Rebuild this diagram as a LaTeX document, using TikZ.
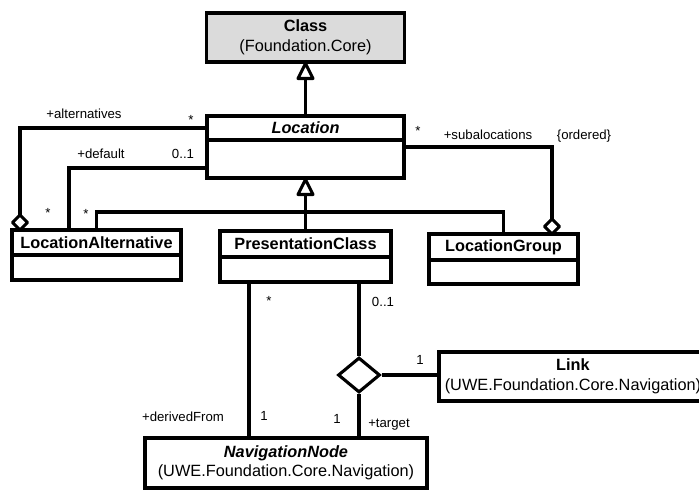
\documentclass[tikz,border=0pt]{standalone}
\usepackage{fontspec}
\setmainfont{Liberation Sans}
\usetikzlibrary{shapes.geometric,positioning,calc}
\newcommand{\clsfont}{\fontsize{16.3pt}{19.5pt}\selectfont}
\newcommand{\lblfont}{\fontsize{13.2pt}{15pt}\selectfont}
\definecolor{classgray}{gray}{0.86}

\begin{document}
\begin{tikzpicture}[x=1pt, y=-1pt,
    cls/.style={draw, line width=3.1pt, inner sep=0pt, outer sep=0pt, font=\clsfont, align=center},
    lbl/.style={font=\lblfont, anchor=base, inner sep=0pt},
    assoc/.style={line width=3.1pt},
    hollow/.style={draw, fill=white, line width=3.1pt, line join=round}]
    \useasboundingbox (0,0) rectangle (699,492);

    % Class
    \node[cls, fill=classgray, minimum width=198pt, minimum height=49pt] (class) at (305.5,37.5)
        {\textbf{Class}\\(Foundation.Core)};

    % Location
    \node[cls, minimum width=197pt, minimum height=24pt] (loc) at (305.5,128) {\textbf{\textit{Location}}};
    \node[cls, minimum width=197pt, minimum height=38pt, below=0pt of loc] (locb) {};

    % LocationAlternative
    \node[cls, minimum width=169pt, minimum height=25pt] (alt) at (96.5,242.5) {\textbf{LocationAlternative}};
    \node[cls, minimum width=169pt, minimum height=25pt, below=0pt of alt] (altb) {};

    % PresentationClass
    \node[cls, minimum width=171pt, minimum height=26pt] (pres) at (305.5,244) {\textbf{PresentationClass}};
    \node[cls, minimum width=171pt, minimum height=25pt, below=0pt of pres] (presb) {};

    % LocationGroup
    \node[cls, minimum width=149pt, minimum height=26pt] (grp) at (503.5,247) {\textbf{LocationGroup}};
    \node[cls, minimum width=149pt, minimum height=24pt, below=0pt of grp] (grpb) {};

    % NavigationNode
    \node[cls, minimum width=282pt, minimum height=50pt] (nav) at (286,463)
        {\textbf{\textit{NavigationNode}}\\(UWE.Foundation.Core.Navigation)};

    % Link
    \node[cls, minimum width=268pt, minimum height=49pt] (link) at (573,376.5)
        {\textbf{Link}\\(UWE.Foundation.Core.Navigation)};

    % Generalizations
    \coordinate (bar) at (305.5,212);
    \draw[assoc] (loc.north) -- (class.south);
    \draw[assoc] (pres.north) -- (locb.south);
    \draw[assoc] (alt.north) |- (bar) -| (grp.north);
    \draw[hollow] ($(class.south)+(0,1.5)$) -- ++(-7.5,15) -- ++(15,0) -- cycle;
    \draw[hollow] ($(locb.south)+(0,1.5)$) -- ++(-7.5,15) -- ++(15,0) -- cycle;

    % Associations of Location
    \coordinate (altend) at ($(alt.north west)+(8,0)$);
    \coordinate (grpend) at ($(grp.north west)+(123,0)$);
    \draw[assoc] (loc.west) -| (altend);
    \draw[assoc] ($(locb.south west)+(0,-10)$) -| ($(alt.north west)+(57,0)$);
    \draw[assoc] ($(locb.north east)+(0,7)$) -| (grpend);
    \draw[hollow] (altend) -- ++(-7.5,-7.5) -- ++(7.5,-7.5) -- ++(7.5,7.5) -- cycle;
    \draw[hollow] (grpend) -- ++(-7.5,-7.5) -- ++(7.5,-7.5) -- ++(7.5,7.5) -- cycle;

    % Associations of PresentationClass
    \coordinate (derived) at ($(presb.south west)+(29,0)$);
    \node[draw, diamond, line width=3.1pt, fill=white, inner sep=0pt,
        minimum width=42pt, minimum height=35pt] (dia) at (359,375) {};
    \draw[assoc] (derived) -- (derived |- nav.north);
    \draw[assoc] (dia.north |- presb.south) -- (dia.north);
    \draw[assoc] (dia.south) -- (dia.south |- nav.north);
    \draw[assoc] (dia.east) -- (dia.east -| link.west);

    % Labels
    \node[lbl] (m-alt) at (84,119) {+alternatives};
    \node[lbl] (m-alt-loc) at (191,124.5) {*};
    \node[lbl] (m-def) at (101,159) {+default};
    \node[lbl] (m-def-loc) at (183,159) {0..1};
    \node[lbl] (m-alt-a) at (48,217.5) {*};
    \node[lbl] (m-def-a) at (86,218.5) {*};
    \node[lbl] (m-sub-loc) at (418,135.5) {*};
    \node[lbl] (m-sub) at (488,140) {+subalocations};
    \node[lbl] (m-ord) at (584,140) {\{ordered\}};
    \node[lbl] (m-der-p) at (269,305.5) {*};
    \node[lbl] (m-tgt-p) at (383,306) {0..1};
    \node[lbl] (m-link) at (420,364) {1};
    \node[lbl] (m-der) at (183,421) {+derivedFrom};
    \node[lbl] (m-der-n) at (264,420) {1};
    \node[lbl] (m-tgt-n) at (337,423) {1};
    \node[lbl] (m-tgt) at (389,427) {+target};
\end{tikzpicture}
\end{document}
